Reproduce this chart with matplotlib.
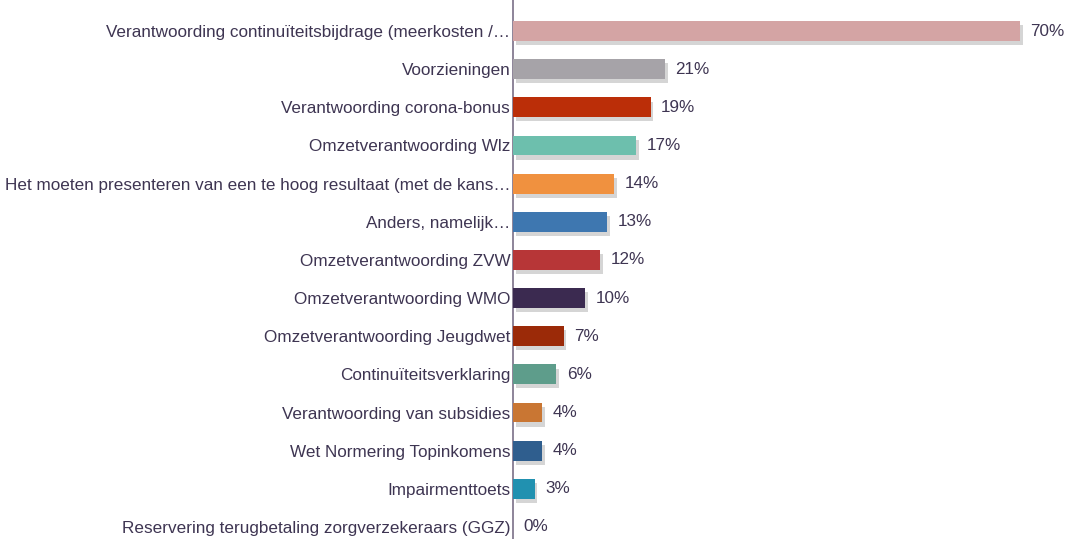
import matplotlib.pyplot as plt
from matplotlib import patheffects as pe

# Data
labels = [
    "Verantwoording continuïteitsbijdrage (meerkosten /…",
    "Voorzieningen",
    "Verantwoording corona-bonus",
    "Omzetverantwoording Wlz",
    "Het moeten presenteren van een te hoog resultaat (met de kans…",
    "Anders, namelijk…",
    "Omzetverantwoording ZVW",
    "Omzetverantwoording WMO",
    "Omzetverantwoording Jeugdwet",
    "Continuïteitsverklaring",
    "Verantwoording van subsidies",
    "Wet Normering Topinkomens",
    "Impairmenttoets",
    "Reservering terugbetaling zorgverzekeraars (GGZ)",
]
values = [70, 21, 19, 17, 14, 13, 12, 10, 7, 6, 4, 4, 3, 0]
colors = ["#d4a4a4", "#a6a3a8", "#bb2e08", "#6dbfad", "#f0913f", "#3e77b0",
          "#b73637", "#3b2a50", "#9b2a08", "#5e9d8b", "#c97633", "#2f5e8e",
          "#2191b0", "#cccccc"]

txt = "#3e3552"
plt.rcParams['font.family'] = ['Liberation Sans', 'DejaVu Sans']

fig = plt.figure(figsize=(10.65, 5.39), dpi=100)
ax = fig.add_axes([513 / 1065, 0, 1 - 513 / 1065, 1])

ypos = list(range(len(values)))
shadow = [pe.SimplePatchShadow(offset=(2, -3), shadow_rgbFace="#888888", alpha=0.35), pe.Normal()]
bars = ax.barh(ypos, values, height=0.52, color=colors, zorder=3)
for b in bars:
    b.set_path_effects(shadow)

for y, v in zip(ypos, values):
    ax.annotate(f"{v}%", (v, y), xytext=(7.5, 0), textcoords="offset points",
                va="center", ha="left", fontsize=12.3, color=txt)

ax.set_yticks(ypos)
ax.set_yticklabels(labels, fontsize=12.3, color=txt)
ax.tick_params(axis="y", length=0, pad=2)
ax.set_xticks([])
ax.set_xlim(0, 552 / 7.24)
ax.set_ylim(13 + 12 / 38.15, -31 / 38.15)
for s in ["top", "right", "bottom"]:
    ax.spines[s].set_visible(False)
ax.spines["left"].set_color("#7a7088")
ax.spines["left"].set_linewidth(1.2)

fig.savefig("out.png", dpi=100)
